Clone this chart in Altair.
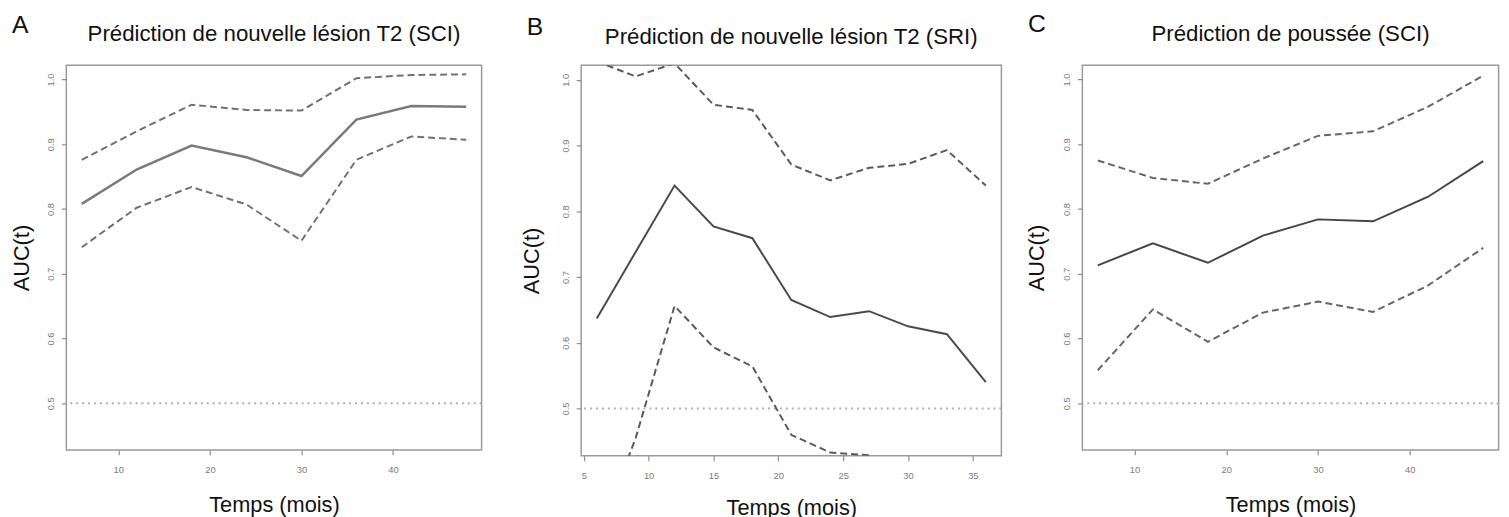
import altair as alt
import pandas as pd

FONT = "Liberation Sans"

# ---- data ----
# Panel A : Prédiction de nouvelle lésion T2 (SCI)
a_time = [6, 12, 18, 24, 30, 36, 42, 48]
a_auc = [0.808, 0.861, 0.898, 0.880, 0.851, 0.938, 0.959, 0.958]
a_lower = [0.741, 0.802, 0.834, 0.807, 0.751, 0.876, 0.912, 0.907]
a_upper = [0.876, 0.920, 0.961, 0.953, 0.952, 1.002, 1.007, 1.008]

# Panel B : Prédiction de nouvelle lésion T2 (SRI)
b_time = [6, 9, 12, 15, 18, 21, 24, 27, 30, 33, 36]
b_auc = [0.637, 0.738, 0.839, 0.777, 0.759, 0.665, 0.639, 0.648, 0.625, 0.613, 0.540]
b_lower = [0.300, 0.455, 0.656, 0.593, 0.564, 0.460, 0.433, 0.429, 0.400, 0.410, 0.350]
b_upper = [1.028, 1.005, 1.025, 0.962, 0.954, 0.871, 0.847, 0.866, 0.872, 0.893, 0.839]

# Panel C : Prédiction de poussée (SCI)
c_time = [6, 12, 18, 24, 30, 36, 42, 48]
c_auc = [0.713, 0.747, 0.717, 0.759, 0.784, 0.781, 0.819, 0.874]
c_lower = [0.551, 0.645, 0.595, 0.640, 0.657, 0.641, 0.682, 0.740]
c_upper = [0.875, 0.848, 0.839, 0.878, 0.913, 0.920, 0.958, 1.006]

titles = ["Prédiction de nouvelle lésion T2 (SCI)",
          "Prédiction de nouvelle lésion T2 (SRI)",
          "Prédiction de poussée (SCI)"]
letters = ["A", "B", "C"]
reference_auc = [0.5]
y_ticks = [0.5, 0.6, 0.7, 0.8, 0.9, 1.0]
ac_x_ticks = [10, 20, 30, 40]
b_x_ticks = [5, 10, 15, 20, 25, 30, 35]

Y_DOMAIN = [0.428, 1.022]


def make_panel(letter, title, time, auc, lower, upper, x_domain, x_ticks, w, h,
               solid_color, solid_width, dash_color, title_y, letter_y,
               ytitle_pad, xtitle_pad):
    df = pd.DataFrame({"Temps": time, "AUC": auc, "Inf": lower, "Sup": upper})
    xs = alt.Scale(domain=x_domain, nice=False, zero=False)
    ys = alt.Scale(domain=Y_DOMAIN, nice=False, zero=False)
    x_axis = alt.Axis(values=x_ticks, title="Temps (mois)", format="d",
                      labelPadding=9.5, titlePadding=xtitle_pad)
    y_axis = alt.Axis(values=y_ticks, format=".1f", title="AUC(t)",
                      labelAngle=270, labelAlign="center", labelBaseline="bottom",
                      labelPadding=6, titlePadding=ytitle_pad)
    x_enc = alt.X("Temps:Q", scale=xs, axis=x_axis)

    base = alt.Chart(df)
    ref = alt.Chart(pd.DataFrame({"ref": reference_auc})).mark_rule(
        color="#b0b0b0", strokeWidth=2, strokeDash=[2, 4]
    ).encode(y=alt.Y("ref:Q", scale=ys, axis=y_axis))
    up = base.mark_line(color=dash_color, strokeWidth=2, strokeDash=[7, 4], clip=True).encode(
        x=x_enc, y=alt.Y("Sup:Q", scale=ys, axis=y_axis))
    mid = base.mark_line(color=solid_color, strokeWidth=solid_width, clip=True).encode(
        x=x_enc, y=alt.Y("AUC:Q", scale=ys, axis=y_axis))
    low = base.mark_line(color=dash_color, strokeWidth=2, strokeDash=[7, 4], clip=True).encode(
        x=x_enc, y=alt.Y("Inf:Q", scale=ys, axis=y_axis))
    lab = alt.Chart(pd.DataFrame({"lettre": [letter]})).mark_text(
        align="left", baseline="alphabetic", fontSize=25, font=FONT, color="#111111",
        x=-55, y=letter_y
    ).encode(text="lettre:N")
    ttl = alt.Chart(pd.DataFrame({"titre": [title]})).mark_text(
        align="center", baseline="alphabetic", fontSize=22.5, font=FONT, color="#111111",
        x=w / 2, y=title_y
    ).encode(text="titre:N")
    return alt.layer(ref, up, mid, low, lab, ttl).properties(width=w, height=h)


pA = make_panel(letters[0], titles[0], a_time, a_auc, a_lower, a_upper,
                [4.32, 49.68], ac_x_ticks, 420, 389,
                "#7a7a7a", 2.5, "#707070", -24.3, -33, 12, 21)
pB = make_panel(letters[1], titles[1], b_time, b_auc, b_lower, b_upper,
                [4.8, 37.2], b_x_ticks, 425, 395,
                "#4a4a4a", 2, "#5a5a5a", -21.6, -30.3, 17, 18)
pC = make_panel(letters[2], titles[2], c_time, c_auc, c_lower, c_upper,
                [4.32, 49.68], ac_x_ticks, 421, 389,
                "#454545", 2, "#666666", -25, -33.7, 13, 21)

inner = alt.HConcatChart(hconcat=[pA, pB], spacing=36.7)
chart = alt.HConcatChart(hconcat=[inner, pC], spacing=21.6).properties(
    padding={"left": 2, "top": 0, "right": 0, "bottom": 0}
).configure_view(
    stroke="#9a9a9a", strokeWidth=1.5
).configure_axis(
    grid=False, domain=False, ticks=True, tickSize=5, tickColor="#8c8c8c", tickWidth=1.2,
    labelColor="#7a7a7a", labelFont=FONT, labelFontSize=9.5,
    titleFont=FONT, titleFontSize=22, titleFontWeight="normal", titleColor="#111111"
)

chart.save("out.html", embed_options={"renderer": "svg", "actions": False})
